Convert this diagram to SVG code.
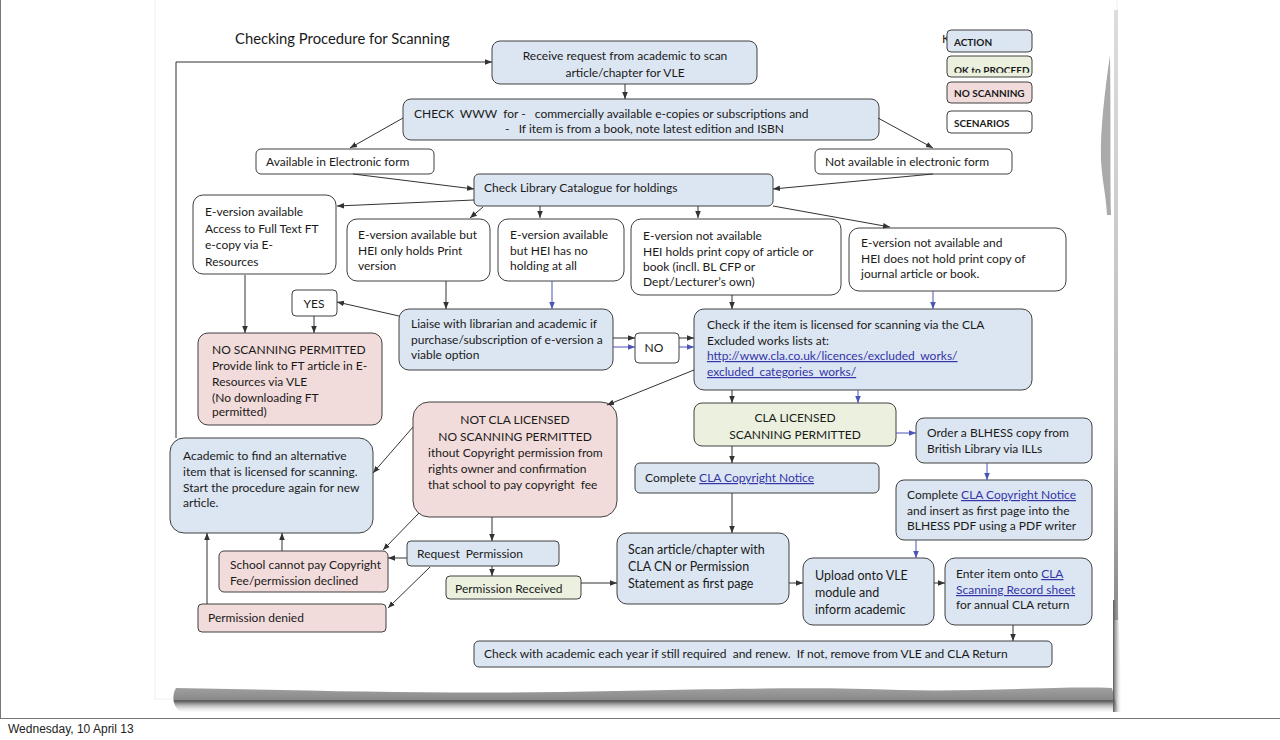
<svg xmlns="http://www.w3.org/2000/svg" width="1280" height="740" viewBox="0 0 1280 740">
<defs>
<marker id="ah" viewBox="0 0 10 10" refX="10" refY="5" markerWidth="7" markerHeight="7" markerUnits="userSpaceOnUse" orient="auto"><path d="M0,1 L10,5 L0,9 z" fill="#333"/></marker>
<marker id="ahb" viewBox="0 0 10 10" refX="10" refY="5" markerWidth="7" markerHeight="7" markerUnits="userSpaceOnUse" orient="auto"><path d="M0,1 L10,5 L0,9 z" fill="#4a55b5"/></marker>
<linearGradient id="shb" x1="0" y1="0" x2="0" y2="1"><stop offset="0" stop-color="#a0a0a0"/><stop offset="0.45" stop-color="#8a8a8a"/><stop offset="0.5" stop-color="#555"/><stop offset="1" stop-color="#fff" stop-opacity="0"/></linearGradient>
<linearGradient id="shr" x1="0" y1="0" x2="1" y2="0"><stop offset="0" stop-color="#555"/><stop offset="1" stop-color="#fff" stop-opacity="0"/></linearGradient>
<linearGradient id="shv" x1="0" y1="0" x2="0" y2="1"><stop offset="0" stop-color="#ddd"/><stop offset="0.7" stop-color="#bbb"/><stop offset="1" stop-color="#888"/></linearGradient>
<clipPath id="okc"><rect x="947" y="56" width="85" height="16.8"/></clipPath>
<style>
.a{fill:#dce6f2;stroke:#404040;stroke-width:1}
.g{fill:#ebf1de;stroke:#404040;stroke-width:1}
.p{fill:#f2dcdb;stroke:#404040;stroke-width:1}
.w{fill:#ffffff;stroke:#404040;stroke-width:1}
text{font-family:Lato,"Liberation Sans",sans-serif;font-size:12px;fill:#1a1a1a}
.m{text-anchor:middle}
.lk{fill:#3434a8;text-decoration:underline}
.lg{font-size:10px;font-weight:bold}
.c path{fill:none;stroke:#333;stroke-width:1;marker-end:url(#ah)}
.c path.b{stroke:#4a55b5;marker-end:url(#ahb)}
</style>
</defs>
<rect x="0" y="0" width="1280" height="740" fill="#fff"/>
<rect x="0.5" y="-2" width="1282" height="720.5" fill="none" stroke="#777" stroke-width="1"/>
<g id="paper">
<rect x="155" y="-1" width="962" height="700" fill="#fff" stroke="#f0f0f0"/>
<path d="M176,688 C300,690 420,694 560,692 C700,690 800,686 900,690 C980,692 1060,686 1112,688 L1118,712 C1000,714 800,712 600,714 C400,713 260,712 180,712 C172,705 172,695 176,688 z" fill="url(#shb)"/>
<rect x="1114" y="10" width="4" height="610" fill="url(#shv)"/>
<path d="M1113,600 L1118,600 L1122,712 L1113,712 z" fill="url(#shr)"/>
<path d="M1110,55 C1105,90 1100,130 1101,160 C1102,180 1106,195 1107,215 L1111,215 C1110,180 1111,120 1110,55 z" fill="#aaa"/>
</g>
<text x="235" y="44" style="font-size:14.8px">Checking Procedure for Scanning</text>
<g id="legend">
<text x="942" y="43" style="font-size:12px">K</text>
<rect class="a" x="947" y="30" width="85" height="22" rx="4"/><text x="954" y="46" class="lg">ACTION</text>
<rect class="g" x="947" y="56" width="85" height="21" rx="4"/><text x="954" y="74" class="lg" clip-path="url(#okc)">OK to PROCEED</text>
<rect class="p" x="947" y="82" width="85" height="21" rx="4"/><text x="954" y="97" class="lg">NO SCANNING</text>
<rect class="w" x="947" y="111" width="85" height="22" rx="4"/><text x="954" y="127" class="lg">SCENARIOS</text>
</g>
<g id="n-receive"><rect class="a" x="492" y="41" width="265" height="43" rx="8"/><text class="m" x="625" y="60">Receive request from academic to scan</text><text class="m" x="625" y="77">article/chapter for VLE</text></g>
<g id="n-checkwww"><rect class="a" x="403" y="99" width="476" height="41" rx="8"/><text x="414" y="118" xml:space="preserve">CHECK  WWW  for -   commercially available e-copies or subscriptions and</text><text x="505" y="133" xml:space="preserve">-   If item is from a book, note latest edition and ISBN</text></g>
<g id="n-avail"><rect class="w" x="256" y="149" width="178" height="25" rx="5"/><text x="266" y="166">Available in Electronic form</text></g>
<g id="n-notavail"><rect class="w" x="815" y="149" width="197" height="25" rx="5"/><text x="825" y="166">Not available in electronic form</text></g>
<g id="n-catalogue"><rect class="a" x="474" y="174" width="299" height="32" rx="5"/><text x="484" y="192">Check Library Catalogue for holdings</text></g>
<g id="n-ev1"><rect class="w" x="193" y="195" width="143" height="79" rx="10"/><text x="205" y="216">E-version available</text><text x="205" y="233">Access to Full Text FT</text><text x="205" y="249">e-copy via E-</text><text x="205" y="266">Resources</text></g>
<g id="n-ev2"><rect class="w" x="347" y="219" width="143" height="62" rx="10"/><text x="358" y="239">E-version available but</text><text x="358" y="255">HEI only holds Print</text><text x="358" y="270">version</text></g>
<g id="n-ev3"><rect class="w" x="498" y="219" width="126" height="62" rx="10"/><text x="510" y="239">E-version available</text><text x="510" y="255">but HEI has no</text><text x="510" y="270">holding at all</text></g>
<g id="n-ev4"><rect class="w" x="631" y="219" width="210" height="76" rx="10"/><text x="643" y="240">E-version not available</text><text x="643" y="256">HEI holds print copy of article or</text><text x="643" y="271">book (incll. BL CFP or</text><text x="643" y="286">Dept/Lecturer’s own)</text></g>
<g id="n-ev5"><rect class="w" x="849" y="228" width="217" height="63" rx="10"/><text x="861" y="247">E-version not available and</text><text x="861" y="263">HEI does not hold print copy of</text><text x="861" y="278">journal article or book.</text></g>
<g id="n-yes"><rect class="w" x="292" y="290" width="45" height="26" rx="4"/><text class="m" x="314" y="308">YES</text></g>
<g id="n-noscan"><rect class="p" x="198" y="333" width="184" height="92" rx="10"/><text x="212" y="354">NO SCANNING PERMITTED</text><text x="212" y="370">Provide link to FT article in E-</text><text x="212" y="386">Resources via  VLE</text><text x="212" y="402">(No downloading FT</text><text x="212" y="416">permitted)</text></g>
<g id="n-liaise"><rect class="a" x="399" y="309" width="214" height="61" rx="10"/><text x="411" y="328">Liaise with librarian and academic if</text><text x="411" y="344">purchase/subscription of e-version a</text><text x="411" y="359">viable option</text></g>
<g id="n-no"><rect class="w" x="635" y="333" width="44" height="30" rx="4"/><text class="m" x="654" y="352">NO</text></g>
<g id="n-checkcla"><rect class="a" x="694" y="309" width="338" height="81" rx="10"/><text x="707" y="329">Check if the item is licensed for scanning via the CLA</text><text x="707" y="345">Excluded works lists at:</text><text x="707" y="360" class="lk">http://www.cla.co.uk/licences/excluded_works/</text><text x="707" y="376" class="lk">excluded_categories_works/</text></g>
<g id="n-notcla"><rect class="p" x="413" y="402" width="204" height="115" rx="16"/><text class="m" x="515" y="424">NOT CLA LICENSED</text><text class="m" x="515" y="441">NO SCANNING PERMITTED</text><text x="428" y="457">ithout Copyright permission from</text><text x="428" y="473">rights owner and confirmation</text><text x="428" y="489" xml:space="preserve">that school to pay copyright  fee</text></g>
<g id="n-clalic"><rect class="g" x="694" y="403" width="202" height="43" rx="8"/><text class="m" x="795" y="422">CLA LICENSED</text><text class="m" x="795" y="439">SCANNING PERMITTED</text></g>
<g id="n-order"><rect class="a" x="916" y="418" width="176" height="45" rx="8"/><text x="927" y="437">Order a BLHESS copy from</text><text x="927" y="453">British Library via ILLs</text></g>
<g id="n-complete1"><rect class="a" x="635" y="463" width="244" height="30" rx="5"/><text x="645" y="482">Complete <tspan class="lk">CLA Copyright Notice</tspan></text></g>
<g id="n-complete2"><rect class="a" x="896" y="480" width="196" height="60" rx="8"/><text x="907" y="499">Complete <tspan class="lk">CLA Copyright Notice</tspan></text><text x="907" y="515">and insert as first page into the</text><text x="907" y="530">BLHESS PDF using a PDF writer</text></g>
<g id="n-academic"><rect class="a" x="170" y="438" width="203" height="95" rx="14"/><text x="183" y="460">Academic to find an alternative</text><text x="183" y="476">item that is licensed for scanning.</text><text x="183" y="492">Start the procedure again for new</text><text x="183" y="507">article.</text></g>
<g id="n-request"><rect class="a" x="407" y="541" width="152" height="25" rx="4"/><text x="417" y="558" xml:space="preserve">Request  Permission</text></g>
<g id="n-cannotpay"><rect class="p" x="219" y="551" width="169" height="41" rx="5"/><text x="230" y="569">School cannot pay Copyright</text><text x="230" y="585">Fee/permission declined</text></g>
<g id="n-received"><rect class="g" x="446" y="576" width="135" height="23" rx="4"/><text x="455" y="593">Permission Received</text></g>
<g id="n-denied"><rect class="p" x="198" y="604" width="188" height="28" rx="4"/><text x="208" y="622">Permission denied</text></g>
<g id="n-scan"><rect class="a" x="617" y="533" width="172" height="71" rx="10"/><text x="628" y="554" style="font-size:12.5px">Scan article/chapter with</text><text x="628" y="571" style="font-size:12.5px">CLA CN or Permission</text><text x="628" y="588" style="font-size:12.5px">Statement as first page</text></g>
<g id="n-upload"><rect class="a" x="803" y="558" width="131" height="67" rx="10"/><text x="815" y="580" style="font-size:12.5px">Upload onto VLE</text><text x="815" y="597" style="font-size:12.5px">module and</text><text x="815" y="614" style="font-size:12.5px">inform academic</text></g>
<g id="n-enter"><rect class="a" x="945" y="558" width="147" height="67" rx="10"/><text x="956" y="578">Enter item onto <tspan class="lk">CLA</tspan></text><text x="956" y="594" class="lk">Scanning Record sheet</text><text x="956" y="609">for annual CLA return</text></g>
<g id="n-annual"><rect class="a" x="474" y="641" width="578" height="26" rx="5"/><text x="484" y="658" xml:space="preserve">Check with academic each year if still required  and renew.  If not, remove from VLE and CLA Return</text></g>
<g id="connectors" class="c">
<path d="M176,438 L176,62 L492,62"/>
<path d="M625,84 L625,99"/>
<path d="M403,118 L350,148"/>
<path d="M878,118 L933,148"/>
<path d="M353,174 L474,189"/>
<path d="M933,174 L773,189"/>
<path d="M474,200 L337,206"/>
<path d="M483,207 L470,218"/>
<path d="M540,206 L540,218"/>
<path d="M698,206 L698,218"/>
<path d="M773,206 L890,227"/>
<path d="M245,275 L245,333"/>
<path d="M314,316 L314,333"/>
<path d="M399,316 L337,302"/>
<path d="M446,281 L446,309"/>
<path class="b" d="M552,281 L552,309"/>
<path d="M613,338 L635,338"/>
<path class="b" d="M613,347 L635,347"/>
<path d="M679,338 L694,338"/>
<path class="b" d="M679,347 L694,347"/>
<path d="M732,295 L732,309"/>
<path class="b" d="M933,291 L933,309"/>
<path d="M694,370 L607,405"/>
<path d="M732,390 L732,403"/>
<path class="b" d="M858,390 L858,403"/>
<path class="b" d="M896,433 L916,433"/>
<path d="M732,446 L732,463"/>
<path class="b" d="M987,463 L987,480"/>
<path d="M732,493 L732,533"/>
<path class="b" d="M916,540 L916,558"/>
<path d="M789,583 L803,583"/>
<path d="M934,583 L945,583"/>
<path d="M1013,625 L1013,641"/>
<path d="M581,583 L617,583"/>
<path d="M413,427 L373,473"/>
<path d="M419,513 L383,550"/>
<path d="M492,517 L492,541"/>
<path d="M407,558 L388,558"/>
<path d="M492,566 L492,576"/>
<path d="M430,567 L388,608"/>
<path d="M282,551 L282,533"/>
<path d="M207,604 L207,533"/>
</g>
<text x="8" y="733" style="font-family:'Liberation Sans',sans-serif;font-size:12px;fill:#222">Wednesday, 10 April 13</text>
</svg>
